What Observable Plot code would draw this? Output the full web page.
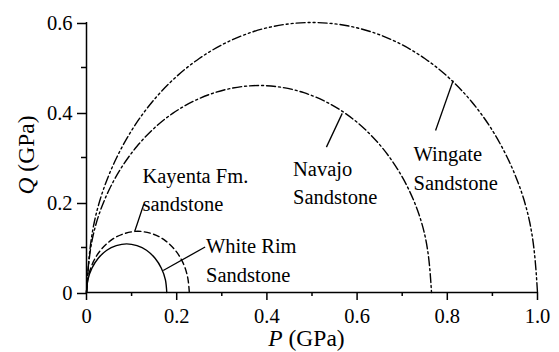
<!DOCTYPE html>
<html><head><meta charset="utf-8">
<script src="https://cdn.jsdelivr.net/npm/d3@7"></script>
<script src="https://cdn.jsdelivr.net/npm/@observablehq/plot@0.6"></script>
<style>
body{margin:0;background:#fff;}
svg{display:block;}
html body #chart svg text, html body #chart svg tspan, html body #chart svg { font-family: "Liberation Serif", serif !important; }
</style>
</head><body><div id="chart"></div>
<script>
// Series values (P, Q in GPa)
const whiteRimP = [0, 0.003, 0.012, 0.026, 0.045, 0.066, 0.089, 0.112, 0.133, 0.152, 0.166, 0.175, 0.178];
const whiteRimQ = [0, 0.028, 0.054, 0.076, 0.094, 0.104, 0.108, 0.104, 0.094, 0.076, 0.054, 0.028, 0];
const kayentaP  = [0, 0.004, 0.015, 0.033, 0.057, 0.084, 0.114, 0.144, 0.171, 0.195, 0.213, 0.224, 0.228];
const kayentaQ  = [0, 0.035, 0.068, 0.096, 0.118, 0.131, 0.136, 0.131, 0.118, 0.096, 0.068, 0.035, 0];
const navajoP   = [0, 0.013, 0.051, 0.112, 0.191, 0.284, 0.383, 0.482, 0.574, 0.653, 0.714, 0.752, 0.765];
const navajoQ   = [0, 0.119, 0.230, 0.325, 0.398, 0.444, 0.460, 0.444, 0.398, 0.325, 0.230, 0.119, 0];
const wingateP  = [0, 0.017, 0.067, 0.146, 0.250, 0.371, 0.500, 0.629, 0.750, 0.854, 0.933, 0.983, 1.000];
const wingateQ  = [0, 0.155, 0.300, 0.424, 0.520, 0.580, 0.600, 0.580, 0.520, 0.424, 0.300, 0.155, 0];

const rockNames = ["White Rim\nSandstone", "Kayenta Fm.\nsandstone", "Navajo\nSandstone", "Wingate\nSandstone"];

// Tick values and labels
const xTicks = [0, 0.2, 0.4, 0.6, 0.8, 1.0];
const xTickLabels = ["0", "0.2", "0.4", "0.6", "0.8", "1.0"];
const xMinor = [0.1, 0.3, 0.5, 0.7, 0.9];
const yTicks = [0, 0.2, 0.4, 0.6];
const yTickLabels = ["0", "0.2", "0.4", "0.6"];
const yMinor = [0.1, 0.3, 0.5];

// Annotation anchors (data units)
const labelP = [0.265, 0.124, 0.458, 0.725];
const labelQ = [0.132, 0.289, 0.304, 0.337];
const leaderP1 = [0.263, 0.127, 0.532, 0.774];
const leaderQ1 = [0.101, 0.196, 0.323, 0.360];
const leaderP2 = [0.170, 0.107, 0.567, 0.813];
const leaderQ2 = [0.049, 0.136, 0.398, 0.471];

const seriesP = [whiteRimP, kayentaP, navajoP, wingateP];
const seriesQ = [whiteRimQ, kayentaQ, navajoQ, wingateQ];
const dashes = [null, "6,3.5", "9,3,2,3", "9,3,2,3,2,3"];

const lineMarks = seriesP.map((ps, k) => {
  const rows = ps.map((p, i) => ({P: p, Q: seriesQ[k][i]}));
  return Plot.line(rows, {x: "P", y: "Q", curve: "natural", stroke: "black", strokeWidth: 1.4,
    strokeDasharray: dashes[k] || undefined});
});

const labels = rockNames.map((t, i) => ({text: t, P: labelP[i], Q: labelQ[i]}));
const leaders = rockNames.map((t, i) => ({x1: leaderP1[i], y1: leaderQ1[i], x2: leaderP2[i], y2: leaderQ2[i]}));

const FONT = "Liberation Serif";

const plot = Plot.plot({
  width: 559, height: 352,
  marginLeft: 86, marginRight: 22, marginTop: 22, marginBottom: 60,
  x: {domain: [0, 1], label: null},
  y: {domain: [0, 0.6], label: null},
  style: {fontFamily: FONT, fontSize: "20.5px", background: "white", color: "black", overflow: "visible"},
  marks: [
    Plot.axisX({ticks: xTicks, tickSize: 8, tickPadding: 8, strokeWidth: 1.5, label: null,
      tickFormat: d => xTickLabels[xTicks.findIndex(t => Math.abs(t - d) < 1e-9)]}),
    Plot.axisX({ticks: xMinor, tickSize: 4, strokeWidth: 1.5, label: null, tickFormat: () => ""}),
    Plot.axisY({ticks: yTicks, tickSize: 9, tickPadding: 5, strokeWidth: 1.5, label: null, dy: 1,
      tickFormat: d => yTickLabels[yTicks.findIndex(t => Math.abs(t - d) < 1e-9)]}),
    Plot.axisY({ticks: yMinor, tickSize: 5, strokeWidth: 1.5, label: null, tickFormat: () => ""}),
    Plot.ruleY([0], {strokeWidth: 1.5}),
    Plot.ruleX([0], {strokeWidth: 1.5}),
    ...lineMarks,
    Plot.link(leaders, {x1: "x1", y1: "y1", x2: "x2", y2: "y2", stroke: "black", strokeWidth: 1.3}),
    Plot.text(labels, {x: "P", y: "Q", text: "text", textAnchor: "start", lineAnchor: "top",
      lineHeight: 1.39, fontSize: 20.5, fill: "black"})
  ]
});

const svg = d3.select(plot);
const xs = plot.scale("x"), ys = plot.scale("y");
const xc = (xs.range[0] + xs.range[1]) / 2 - 5;
const yc = (ys.range[0] + ys.range[1]) / 2 - 2;
const xt = svg.append("text").attr("x", xc).attr("y", 346).attr("text-anchor", "middle")
  .attr("font-size", 23.5).attr("fill", "black");
xt.append("tspan").attr("font-style", "italic").text("P");
xt.append("tspan").text(" (GPa)");
const yt = svg.append("text").attr("transform", `translate(33.5,${yc}) rotate(-90)`)
  .attr("text-anchor", "middle").attr("font-size", 23.5).attr("fill", "black");
yt.append("tspan").attr("font-style", "italic").text("Q");
yt.append("tspan").text(" (GPa)");

function applyFont() {
  svg.attr("font-family", FONT).style("font-family", FONT, "important");
  svg.selectAll("g, text, tspan").attr("font-family", FONT).style("font-family", FONT, "important");
}
applyFont();
document.getElementById("chart").appendChild(plot);
applyFont();
requestAnimationFrame(applyFont);
setTimeout(applyFont, 0);
setTimeout(applyFont, 50);
setTimeout(applyFont, 300);
</script>
</body></html>
